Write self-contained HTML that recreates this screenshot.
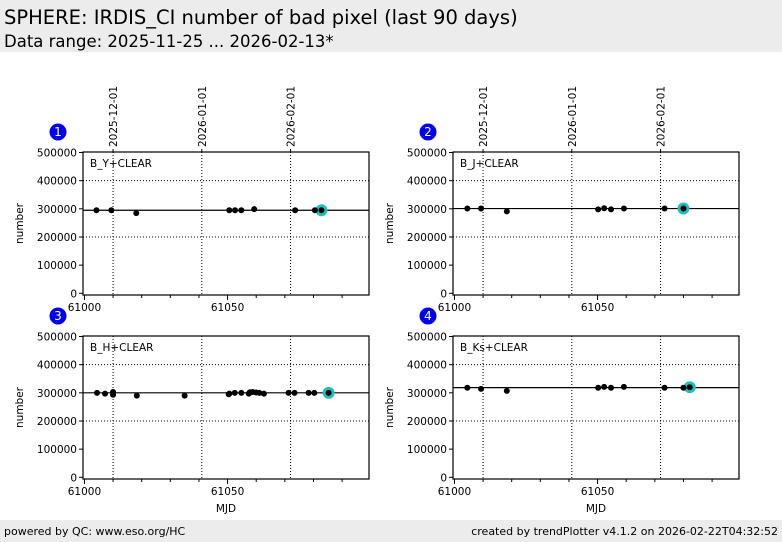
<!DOCTYPE html>
<html><head><meta charset="utf-8"><style>
body{margin:0;width:782px;height:542px;background:#fff;font-family:"DejaVu Sans","Liberation Sans",sans-serif;overflow:hidden;position:relative}
#hdr{position:absolute;left:0;top:0;width:782px;height:52px;background:#ececec}
#t1{position:absolute;left:4px;top:6px;font-size:19.5px;color:#000}
#t2{position:absolute;left:4px;top:32px;font-size:16.5px;color:#000}
#ftr{position:absolute;left:0;top:520px;width:782px;height:22px;background:#ececec;font-size:11px}
#fl{position:absolute;left:4px;top:5px}
#fr{position:absolute;right:4px;top:5px}
svg{position:absolute;left:0;top:0;font-family:"DejaVu Sans","Liberation Sans",sans-serif}
</style></head><body>
<div id="hdr">
<div id="t1">SPHERE: IRDIS_CI number of bad pixel (last 90 days)</div>
<div id="t2">Data range: 2025-11-25 ... 2026-02-13*</div>
</div>
<svg id="chart" width="782" height="542"></svg>
<div id="ftr">
<span id="fl">powered by QC: www.eso.org/HC</span>
<span id="fr">created by trendPlotter v4.1.2 on 2026-02-22T04:32:52</span>
</div>
<script>
const panelLabels = ["B_Y+CLEAR","B_J+CLEAR","B_H+CLEAR","B_Ks+CLEAR"];
const medians = [295000, 301000, 300000, 318500];
const mjd1 = [61004.2,61009.4,61018.1,61050.6,61052.6,61054.8,61059.3,61073.6,61080.5,61082.8];
const val1 = [295000,295000,284500,295000,295000,295000,298700,295000,295000,295000];
const mjd2 = [61004.5,61009.3,61018.3,61050.2,61052.3,61054.7,61059.2,61073.4,61080.0];
const val2 = [301000,301000,291000,298000,302000,298000,301000,301000,301000];
const mjd3 = [61004.4,61007.2,61010.0,61010.0,61018.3,61035.0,61050.4,61050.6,61052.5,61054.8,61057.4,61057.8,61058.8,61060.0,61061.1,61062.7,61071.3,61073.4,61078.3,61080.3,61085.3];
const val3 = [300000,297000,303000,293000,290000,290000,295000,297000,300000,300000,297000,302000,303000,301000,300000,297000,300000,300000,300000,300000,300000];
const mjd4 = [61004.5,61009.3,61018.3,61050.2,61052.3,61054.7,61059.2,61073.4,61080.0,61082.2];
const val4 = [318000,314000,307000,318000,321000,318000,321000,318000,318000,320000];
const yTicks = [0,100000,200000,300000,400000,500000];
const xTickLabels = [61000,61050];
const dateMjd = [61010,61041,61072];
const dateLabels = ["2025-12-01","2026-01-01","2026-02-01"];
const svg=document.getElementById('chart');
const NS="http://www.w3.org/2000/svg";
function mk(tag,attrs,parent){const e=document.createElementNS(NS,tag);for(const k in attrs)e.setAttribute(k,attrs[k]);(parent||svg).appendChild(e);return e;}
const panels=[{x:83,y:152,m:mjd1,v:val1,top:true,bot:false},{x:453,y:152,m:mjd2,v:val2,top:true,bot:false},{x:83,y:336,m:mjd3,v:val3,top:false,bot:true},{x:453,y:336,m:mjd4,v:val4,top:false,bot:true}];
const W=286,H=143,X0=60999.5,X1=61099.4;
panels.forEach((p,i)=>{
  const g=mk('g',{});
  
  
  const xs=m=>p.x+(m-X0)/(X1-X0)*W;
  const ys=v=>p.y+H-1.7-v/500000*(H-2.2);
  dateMjd.forEach(d=>{const l=mk('line',{x1:xs(d),x2:xs(d),y1:p.y,y2:p.y+H,stroke:'#000','stroke-width':1,'stroke-dasharray':'1,2'},g);});
  [200000,400000].forEach(v=>{const l=mk('line',{x1:p.x,x2:p.x+W,y1:ys(v),y2:ys(v),stroke:'#000','stroke-width':1,'stroke-dasharray':'1,2'},g);});
  const ml=mk('line',{x1:p.x,x2:p.x+W,y1:ys(medians[i]),y2:ys(medians[i]),stroke:'#000','stroke-width':1.2},g);
  
  const fr=mk('rect',{x:p.x,y:p.y,width:W,height:H,fill:'none',stroke:'#000','stroke-width':1.2},g);
  
  yTicks.forEach(v=>{mk('line',{x1:p.x-4,x2:p.x,y1:ys(v),y2:ys(v),stroke:'#000'},g);
    const t=mk('text',{x:p.x-6,y:ys(v)+4,'text-anchor':'end','font-size':10.5},g);t.textContent=v;
    });
  for(let m=61000;m<=61090;m+=10){const big=(m%50===0);mk('line',{x1:xs(m),x2:xs(m),y1:p.y+H,y2:p.y+H+(big?5:3),stroke:'#000'},g);}
  xTickLabels.forEach(m=>{const t=mk('text',{x:xs(m),y:p.y+H+16,'text-anchor':'middle','font-size':10.5},g);t.textContent=m;
    });
  const yt=mk('text',{x:0,y:0,transform:`translate(${p.x-60},${p.y+H/2}) rotate(-90)`,'text-anchor':'middle','font-size':10.5},g);
  yt.textContent='number';
  if(p.bot){const xt=mk('text',{x:p.x+W/2,y:p.y+H+33,'text-anchor':'middle','font-size':10.5},g);xt.textContent='MJD';
    }
  if(p.top){dateMjd.forEach((d,k)=>{mk('line',{x1:xs(d),x2:xs(d),y1:p.y-3,y2:p.y,stroke:'#000'},g);
    const t=mk('text',{x:0,y:0,transform:`translate(${xs(d)+4},${p.y-5}) rotate(-90)`,'font-size':10.5},g);t.textContent=dateLabels[k];
    });}
  const lb=mk('text',{x:p.x+7,y:p.y+15,'font-size':10.5},g);lb.textContent=panelLabels[i];
  
  const bc=mk('circle',{cx:p.x-25,cy:p.y-20,r:8.5,fill:'#0000ee'},g);
  
  const bt=mk('text',{x:p.x-25,y:p.y-16,'text-anchor':'middle','font-size':12,fill:'#fff'},g);bt.textContent=i+1;
  const n=p.m.length;
  const hl=mk('circle',{cx:xs(p.m[n-1]),cy:ys(p.v[n-1]),r:6,fill:'#1fbfbf'},g);
  
  p.m.forEach((m,k)=>{const c=mk('circle',{cx:xs(m),cy:ys(p.v[k]),r:3,fill:'#000'},g);
    });
});
</script>
</body></html>
